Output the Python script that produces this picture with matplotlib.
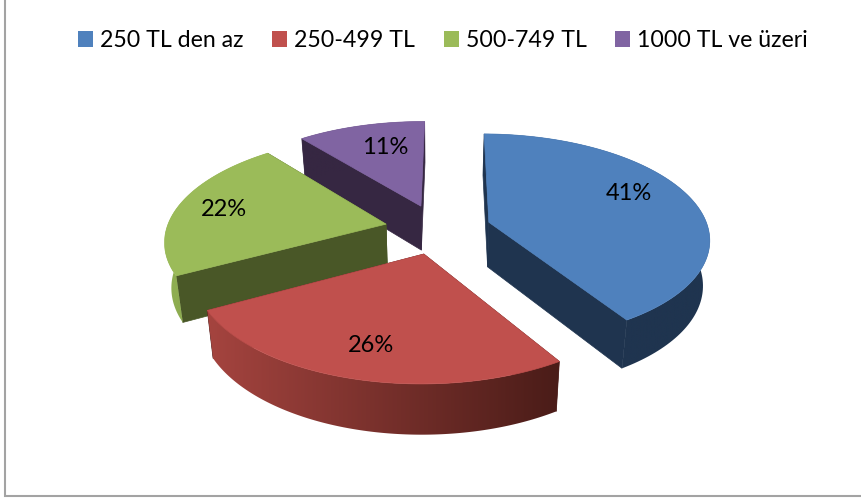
import numpy as np
import matplotlib
matplotlib.use('Agg')
import matplotlib.pyplot as plt
from matplotlib.colors import LinearSegmentedColormap
from matplotlib.patches import Patch, Polygon

plt.rcParams['font.family'] = ['Lato', 'DejaVu Sans']

# data
categories = ['250 TL den az', '250-499 TL', '500-749 TL', '1000 TL ve üzeri']
values = [41, 26, 22, 11]

# colours per slice
top_colors = ['#4F81BD', '#C0504D', '#9BBB59', '#8064A2']
cut_colors = ['#1F344F', '#4F1E1B', '#495727', '#362742']
rim_left = ['#1F344F', '#A5443F', '#90AF52', '#362742']
rim_right = ['#1F344F', '#4A1C18', '#7F9C48', '#362742']

# perspective set-up of the pie, in pixels
cx, cy = 438, 229
rx, ry = 219.5, 103
persp = 0.145
explode = 0.243
depth = 46
shrink = 0.975
rotation = 0.5

# drawn back to front
draw_order = [3, 2, 0, 1]

# where the percent labels sit
label_x = [629, 371, 224, 385]
label_y = [194, 345, 210, 148]


def project(X, Y, lower=False):
    s = 1 / (1 + persp * Y)
    if lower:
        s = s * shrink
        return cx + rx * X * s, cy + (-ry * Y + depth) * s
    return cx + rx * X * s, cy - ry * Y * s


fig = plt.figure(figsize=(8.62, 5), dpi=100)
ax = fig.add_axes([0, 0, 1, 1])

# slice angles clockwise from 12 o'clock
edges = np.radians(np.concatenate([[0], np.cumsum(values)]) / sum(values) * 360 + rotation)

for n, i in enumerate(draw_order):
    z = 2 + n
    t0, t1 = edges[i], edges[i + 1]
    mid = (t0 + t1) / 2
    ox, oy = explode * np.sin(mid), explode * np.cos(mid)
    t = np.linspace(t0, t1, 120)
    Xs = ox + np.sin(t)
    Ys = oy + np.cos(t)

    top_x, top_y = project(Xs, Ys)
    low_x, low_y = project(Xs, Ys, lower=True)
    ax_x, ax_y = project(ox, oy)
    bx, by = project(ox, oy, lower=True)

    # the two cut faces
    for k in [0, -1]:
        quad = [(ax_x, ax_y), (top_x[k], top_y[k]), (low_x[k], low_y[k]), (bx, by)]
        ax.add_patch(Polygon(quad, closed=True, fc=cut_colors[i], ec=cut_colors[i], lw=0.5, zorder=z))

    # outer rim with a left to right gradient
    rim = np.column_stack([np.concatenate([top_x, low_x[::-1]]),
                           np.concatenate([top_y, low_y[::-1]])])
    rim_patch = Polygon(rim, closed=True, fc='none', ec='none', zorder=z)
    ax.add_patch(rim_patch)
    cmap = LinearSegmentedColormap.from_list('rim', [rim_left[i], rim_right[i]])
    im = ax.imshow(np.linspace(0, 1, 256).reshape(1, -1), cmap=cmap, aspect='auto', zorder=z + 0.1,
                   extent=[rim[:, 0].min(), rim[:, 0].max(), rim[:, 1].max(), rim[:, 1].min()])
    im.set_clip_path(rim_patch)

    # top surface
    surf = np.column_stack([np.concatenate([[ax_x], top_x]), np.concatenate([[ax_y], top_y])])
    ax.add_patch(Polygon(surf, closed=True, fc=top_colors[i], ec=top_colors[i], lw=0.5, zorder=z + 0.2))

    ax.text(label_x[i], label_y[i], f'{values[i]}%', fontsize=17, color='black',
            ha='center', va='center', zorder=10)

ax.set_xlim(0, 862)
ax.set_ylim(500, 0)
ax.axis('off')

# only the left and bottom edge of the chart frame are in the crop
ax.plot([5, 5, 862], [0, 496, 496], color='#A3A3A3', lw=1.5, solid_joinstyle='miter', clip_on=False)

handles = [Patch(fc=c, ec='none') for c in top_colors]
ax.legend(handles, categories, ncol=4, frameon=False, fontsize=16.7,
          loc='center', bbox_to_anchor=(443 / 862, 1 - 40.5 / 500),
          handlelength=0.65, handleheight=0.65, handletextpad=0.3,
          columnspacing=1.23, borderpad=0, labelcolor='black')

fig.savefig('out.png', dpi=100)
